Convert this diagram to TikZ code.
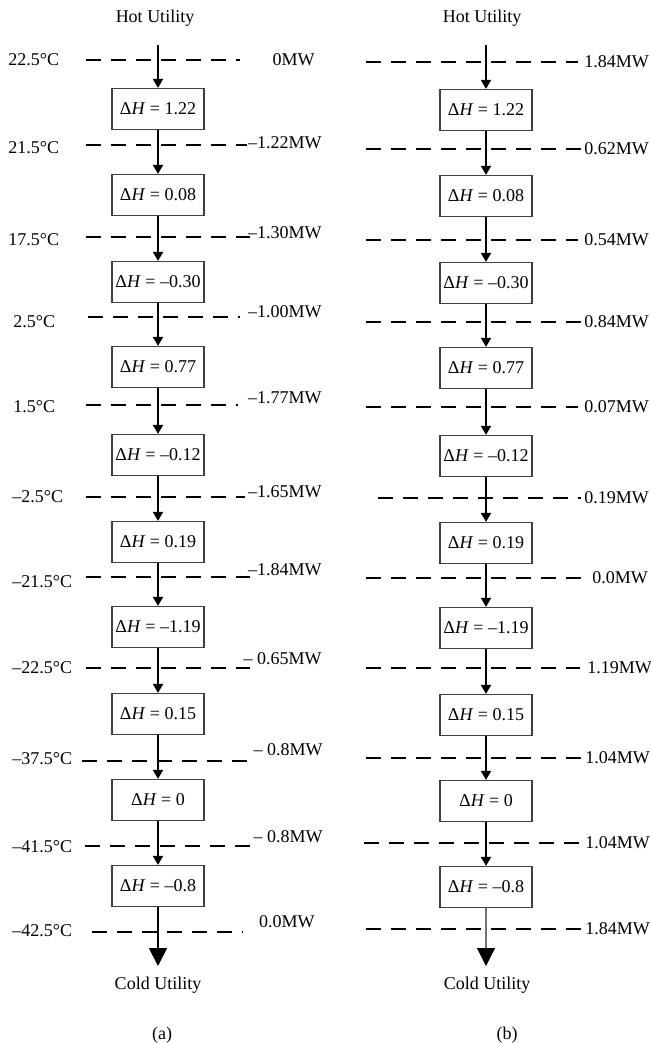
\documentclass[tikz,border=0pt]{standalone}
\usepackage{fontspec}
\setmainfont{Liberation Serif}
\usetikzlibrary{arrows.meta}
\begin{document}
\begin{tikzpicture}[x=0.5pt, y=-0.5pt,
        font=\fontsize{9}{11}\selectfont,
        dhbox/.style={rectangle, draw=black!75, line width=0.6pt, minimum width=46pt, minimum height=20.5pt, inner sep=1pt},
        level/.style={draw, line width=1pt, dash pattern=on 7.5pt off 5pt},
        flow/.style={draw, line width=0.9pt, -{Triangle[width=5pt,length=4.5pt]}},
        bigflow/.style={draw, line width=0.9pt, -{Triangle[width=9pt,length=9pt]}},
        temp/.style={anchor=west, inner sep=0pt},
        duty/.style={anchor=east, inner sep=0pt},
        dutyb/.style={anchor=west, inner sep=0pt}
    ]
        \useasboundingbox (0,0) rectangle (651,1043);

        % (a) cascade
        \node (hota) at (155,18) {Hot Utility};
        \coordinate (sa) at (158,45);
        \node[dhbox] (a1) at (158,109) {Δ\textit{H} = 1.22};
        \node[dhbox] (a2) at (158,195) {Δ\textit{H} = 0.08};
        \node[dhbox] (a3) at (158,282) {Δ\textit{H} = –0.30};
        \node[dhbox] (a4) at (158,367) {Δ\textit{H} = 0.77};
        \node[dhbox] (a5) at (158,455) {Δ\textit{H} = –0.12};
        \node[dhbox] (a6) at (158,542) {Δ\textit{H} = 0.19};
        \node[dhbox] (a7) at (158,627) {Δ\textit{H} = –1.19};
        \node[dhbox] (a8) at (158,714) {Δ\textit{H} = 0.15};
        \node[dhbox] (a9) at (158,800) {Δ\textit{H} = 0};
        \node[dhbox] (a10) at (158,886) {Δ\textit{H} = –0.8};
        \coordinate (ea) at (158,966);
        \node (colda) at (158,985) {Cold Utility};
        \node (capa) at (162,1035) {(a)};

        \draw[level] (86,60) -- (240,60);
        \draw[level] (86,145) -- (247,145);
        \draw[level] (86,237) -- (250,237);
        \draw[level] (88,317) -- (240,317);
        \draw[level] (86,405) -- (238,405);
        \draw[level] (86,497) -- (245,497);
        \draw[level] (86,577) -- (250,577);
        \draw[level] (86,668) -- (250,668);
        \draw[level] (82,761) -- (253,761);
        \draw[level] (85,846) -- (252,846);
        \draw[level] (92,932) -- (243,932);

        \draw[flow] (sa) -- (a1);
        \foreach \i/\j in {1/2,2/3,3/4,4/5,5/6,6/7,7/8,8/9,9/10}
            \draw[flow] (a\i) -- (a\j);
        \draw[bigflow] (a10) -- (ea);

        \node[temp] (ta1) at (8,60) {22.5°C};
        \node[temp] (ta2) at (8,148) {21.5°C};
        \node[temp] (ta3) at (8,240) {17.5°C};
        \node[temp] (ta4) at (13,322) {2.5°C};
        \node[temp] (ta5) at (13,407) {1.5°C};
        \node[temp] (ta6) at (12,497) {–2.5°C};
        \node[temp] (ta7) at (12,582) {–21.5°C};
        \node[temp] (ta8) at (12,668) {–22.5°C};
        \node[temp] (ta9) at (12,759) {–37.5°C};
        \node[temp] (ta10) at (12,847) {–41.5°C};
        \node[temp] (ta11) at (12,931) {–42.5°C};

        \node[duty] (qa1) at (315,60) {0MW};
        \node[duty] (qa2) at (322,143) {–1.22MW};
        \node[duty] (qa3) at (322,233) {–1.30MW};
        \node[duty] (qa4) at (322,312) {–1.00MW};
        \node[duty] (qa5) at (322,398) {–1.77MW};
        \node[duty] (qa6) at (322,492) {–1.65MW};
        \node[duty] (qa7) at (322,570) {–1.84MW};
        \node[duty] (qa8) at (322,659) {– 0.65MW};
        \node[duty] (qa9) at (323,750) {– 0.8MW};
        \node[duty] (qa10) at (323,837) {– 0.8MW};
        \node[duty] (qa11) at (315,922) {0.0MW};

        % (b) cascade
        \node (hotb) at (482,18) {Hot Utility};
        \coordinate (sb) at (486,45);
        \node[dhbox] (b1) at (486,110) {Δ\textit{H} = 1.22};
        \node[dhbox] (b2) at (486,196) {Δ\textit{H} = 0.08};
        \node[dhbox] (b3) at (486,283) {Δ\textit{H} = –0.30};
        \node[dhbox] (b4) at (486,368) {Δ\textit{H} = 0.77};
        \node[dhbox] (b5) at (486,456) {Δ\textit{H} = –0.12};
        \node[dhbox] (b6) at (486,543) {Δ\textit{H} = 0.19};
        \node[dhbox] (b7) at (486,628) {Δ\textit{H} = –1.19};
        \node[dhbox] (b8) at (486,715) {Δ\textit{H} = 0.15};
        \node[dhbox] (b9) at (486,801) {Δ\textit{H} = 0};
        \node[dhbox] (b10) at (486,887) {Δ\textit{H} = –0.8};
        \coordinate (eb) at (486,966);
        \node (coldb) at (487,985) {Cold Utility};
        \node (capb) at (507,1035) {(b)};

        \draw[level] (366,62) -- (578,62);
        \draw[level] (366,149) -- (583,149);
        \draw[level] (366,240) -- (578,240);
        \draw[level] (366,322) -- (583,322);
        \draw[level] (366,407) -- (578,407);
        \draw[level] (378,498) -- (581,498);
        \draw[level] (366,578) -- (583,578);
        \draw[level] (366,668) -- (580,668);
        \draw[level] (366,758) -- (583,758);
        \draw[level] (364,843) -- (583,843);
        \draw[level] (366,929) -- (583,929);

        \draw[flow] (sb) -- (b1);
        \foreach \i/\j in {1/2,2/3,3/4,4/5,5/6,6/7,7/8,8/9,9/10}
            \draw[flow] (b\i) -- (b\j);
        \draw[bigflow, draw=black!55, line width=0.6pt, -{Triangle[width=9pt,length=9pt,color=black]}] (b10) -- (eb);

        \node[dutyb] (qb1) at (584,62) {1.84MW};
        \node[dutyb] (qb2) at (584,149) {0.62MW};
        \node[dutyb] (qb3) at (584,240) {0.54MW};
        \node[dutyb] (qb4) at (584,322) {0.84MW};
        \node[dutyb] (qb5) at (584,407) {0.07MW};
        \node[dutyb] (qb6) at (584,498) {0.19MW};
        \node[dutyb] (qb7) at (592,578) {0.0MW};
        \node[dutyb] (qb8) at (587,668) {1.19MW};
        \node[dutyb] (qb9) at (585,758) {1.04MW};
        \node[dutyb] (qb10) at (585,843) {1.04MW};
        \node[dutyb] (qb11) at (585,929) {1.84MW};
    \end{tikzpicture}
\end{document}
